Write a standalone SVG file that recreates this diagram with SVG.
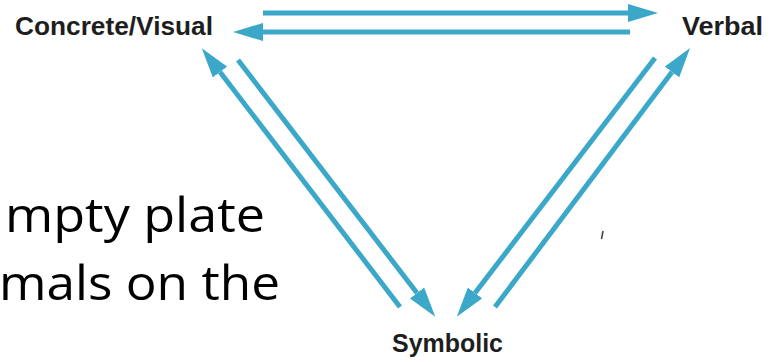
<svg xmlns="http://www.w3.org/2000/svg" width="778" height="362" viewBox="0 0 778 362">
  <style>
    .lbl { font-family: "Liberation Sans", Arial, sans-serif; font-weight: bold; font-size: 26px; fill: #1e1e1e; }
    .body { font-family: "Open Sans", "Noto Sans", sans-serif; font-size: 47px; fill: #000000; }
    .conn { stroke: #3ba7c9; stroke-width: 5; fill: none; marker-end: url(#head); }
  </style>
  <defs>
    <marker id="head" viewBox="0 -9 30 18" refX="0" refY="0" markerWidth="30" markerHeight="18" markerUnits="userSpaceOnUse" orient="auto">
      <path d="M0,-9 L30,0 L0,9 Z" fill="#3ba7c9"/>
    </marker>
  </defs>
  <rect width="778" height="362" fill="#ffffff"/>

  <g id="background-text">
    <text class="body" x="5" y="232" textLength="260" lengthAdjust="spacingAndGlyphs">mpty plate</text>
    <text class="body" x="-1" y="300" textLength="281" lengthAdjust="spacingAndGlyphs">mals on the</text>
  </g>

  <g id="node-concrete-visual">
    <text class="lbl" x="15" y="35" textLength="198" lengthAdjust="spacingAndGlyphs">Concrete/Visual</text>
  </g>
  <g id="node-verbal">
    <text class="lbl" x="682" y="35" textLength="81" lengthAdjust="spacingAndGlyphs">Verbal</text>
  </g>
  <g id="node-symbolic">
    <text class="lbl" x="392" y="352" textLength="111" lengthAdjust="spacingAndGlyphs">Symbolic</text>
  </g>

  <g id="connectors">
    <line class="conn" x1="263" y1="13" x2="628" y2="13"/>
    <line class="conn" x1="630" y1="32" x2="263" y2="32"/>
    <line class="conn" x1="400" y1="307" x2="220" y2="72"/>
    <line class="conn" x1="238" y1="60" x2="417" y2="293"/>
    <line class="conn" x1="495" y1="307" x2="672" y2="72"/>
    <line class="conn" x1="655" y1="58" x2="475" y2="293"/>
  </g>

  <path d="M603,231 L601.5,239" stroke="#444444" stroke-width="1.6" fill="none"/>
</svg>
